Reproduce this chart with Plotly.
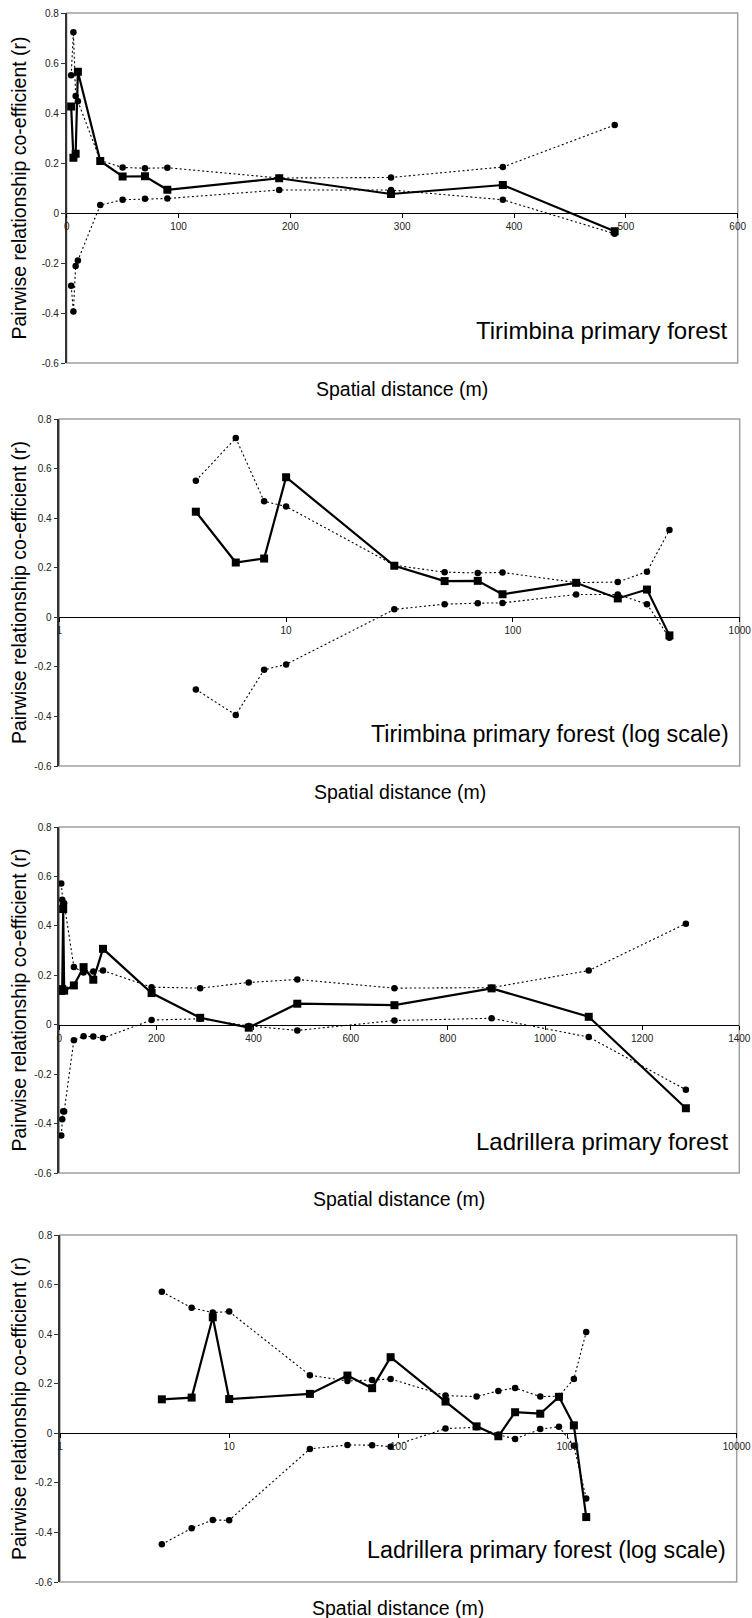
import plotly.graph_objects as go

# Tirimbina primary forest: distance classes (m), mean r and 95% bounds
tir_dist = [4, 6, 8, 10, 30, 50, 70, 90, 190, 290, 390, 490]
tir_r = [0.426, 0.221, 0.237, 0.565, 0.208, 0.146, 0.147, 0.093, 0.139, 0.076, 0.112, -0.073]
tir_upper = [0.551, 0.723, 0.468, 0.447, 0.210, 0.182, 0.179, 0.181, 0.140, 0.142, 0.184, 0.352]
tir_lower = [-0.291, -0.394, -0.212, -0.190, 0.032, 0.053, 0.057, 0.058, 0.092, 0.092, 0.053, -0.083]

# Ladrillera primary forest
lad_dist = [4, 6, 8, 10, 30, 50, 70, 90, 190, 290, 390, 490, 690, 890, 1090, 1290]
lad_r = [0.137, 0.144, 0.468, 0.138, 0.159, 0.233, 0.182, 0.307, 0.128, 0.028, -0.012,
         0.085, 0.079, 0.147, 0.032, -0.338]
lad_upper = [0.571, 0.506, 0.487, 0.491, 0.234, 0.211, 0.215, 0.219, 0.152, 0.148, 0.171,
             0.183, 0.148, 0.150, 0.219, 0.409]
lad_lower = [-0.448, -0.383, -0.350, -0.351, -0.063, -0.047, -0.048, -0.054, 0.019, 0.024,
             -0.005, -0.023, 0.017, 0.026, -0.050, -0.263]

y_ticks = [-0.6, -0.4, -0.2, 0, 0.2, 0.4, 0.6, 0.8]
y_tick_text = ["-0.6", "-0.4", "-0.2", "0", "0.2", "0.4", "0.6", "0.8"]

panel_titles = [
    "Tirimbina primary forest",
    "Tirimbina primary forest (log scale)",
    "Ladrillera primary forest",
    "Ladrillera primary forest (log scale)",
]
title_sizes = [24, 23.3, 24, 23.3]
x_title = "Spatial distance (m)"
y_title = "Pairwise relationship co-efficient (r)"

W, H = 752, 1618
FONT = "Arial, Liberation Sans, sans-serif"

# pixel boxes of each plot area: (left, right, top, bottom)
boxes = [
    (66.7, 737.7, 13, 363),
    (59.3, 739.7, 419, 766),
    (59.3, 739.3, 827, 1173),
    (60.0, 736.7, 1235, 1582),
]

# x-axis configuration for each panel
x_axes = [
    dict(type="linear", range=[0, 600], tickvals=[0, 100, 200, 300, 400, 500, 600],
         ticktext=["0", "100", "200", "300", "400", "500", "600"]),
    dict(type="log", range=[0, 3], tickvals=[1, 10, 100, 1000],
         ticktext=["1", "10", "100", "1000"]),
    dict(type="linear", range=[0, 1400], tickvals=[0, 200, 400, 600, 800, 1000, 1200, 1400],
         ticktext=["0", "200", "400", "600", "800", "1000", "1200", "1400"]),
    dict(type="log", range=[0, 4], tickvals=[1, 10, 100, 1000, 10000],
         ticktext=["1", "10", "100", "1000", "10000"]),
]

series = [
    (tir_dist, tir_r, tir_upper, tir_lower),
    (tir_dist, tir_r, tir_upper, tir_lower),
    (lad_dist, lad_r, lad_upper, lad_lower),
    (lad_dist, lad_r, lad_upper, lad_lower),
]

fig = go.Figure()
layout = dict(
    width=W, height=H, autosize=False,
    margin=dict(l=0, r=0, t=0, b=0),
    paper_bgcolor="white", plot_bgcolor="white",
    showlegend=False,
    font=dict(family=FONT, color="#000"),
)
shapes = []
annotations = []

for i, (box, xcfg, (dist, r, up, lo)) in enumerate(zip(boxes, x_axes, series)):
    n = "" if i == 0 else str(i + 1)
    xa, ya = "x" + n, "y" + n
    left, right, top, bottom = box
    xdom = [left / W, right / W]
    ydom = [1 - bottom / H, 1 - top / H]
    zero_pos = ydom[0] + (ydom[1] - ydom[0]) * 0.6 / 1.4

    layout["xaxis" + n] = dict(
        domain=xdom, anchor="free", position=zero_pos,
        **xcfg,
        showline=True, linecolor="#000", linewidth=1.3,
        ticks="outside", ticklen=4, tickcolor="#000", tickwidth=1,
        tickfont=dict(size=10, color="#222", family=FONT),
        showgrid=False, zeroline=False, fixedrange=True, automargin=False,
    )
    layout["yaxis" + n] = dict(
        domain=ydom, anchor=xa, range=[-0.6, 0.8],
        tickvals=y_ticks, ticktext=y_tick_text,
        showline=True, linecolor="#333", linewidth=1.5,
        ticks="outside", ticklen=4, tickcolor="#333", tickwidth=1,
        tickfont=dict(size=10, color="#222", family=FONT),
        showgrid=False, zeroline=False, fixedrange=True, automargin=False,
    )

    # grey plot-area frame
    shapes.append(dict(type="rect", xref=xa + " domain", yref=ya + " domain",
                       x0=0, x1=1, y0=0, y1=1, layer="below",
                       line=dict(color="#a0a0a0", width=1.5)))

    # confidence bounds (dotted) and mean r (solid)
    for bound in (up, lo):
        fig.add_trace(go.Scatter(
            x=dist, y=bound, xaxis=xa, yaxis=ya, mode="lines+markers",
            line=dict(color="#000", width=1.1, dash="2px,2.5px"),
            marker=dict(symbol="circle", size=6.5, color="#000"),
            cliponaxis=False,
        ))
    fig.add_trace(go.Scatter(
        x=dist, y=r, xaxis=xa, yaxis=ya, mode="lines+markers",
        line=dict(color="#000", width=2.2),
        marker=dict(symbol="square", size=8, color="#000"),
        cliponaxis=False,
    ))

    # panel caption inside the plot area, bottom right
    annotations.append(dict(
        text=panel_titles[i], xref=xa + " domain", yref=ya + " domain",
        x=1 - 9 / (right - left), y=32 / (bottom - top),
        xanchor="right", yanchor="middle",
        showarrow=False, font=dict(size=title_sizes[i], family=FONT, color="#000"),
    ))
    # axis titles
    annotations.append(dict(
        text=x_title, xref="paper", yref="paper",
        x=(left + right) / 2 / W, y=1 - (bottom + 26) / H,
        xanchor="center", yanchor="middle", showarrow=False,
        font=dict(size=19.5, family=FONT, color="#000"),
    ))
    annotations.append(dict(
        text=y_title, xref="paper", yref="paper",
        x=18.5 / W, y=1 - (top + bottom) / 2 / H, textangle=-90,
        xanchor="center", yanchor="middle", showarrow=False,
        font=dict(size=19.5, family=FONT, color="#000"),
    ))

layout["shapes"] = shapes
layout["annotations"] = annotations
fig.update_layout(**layout)
fig.write_html("out.html")
